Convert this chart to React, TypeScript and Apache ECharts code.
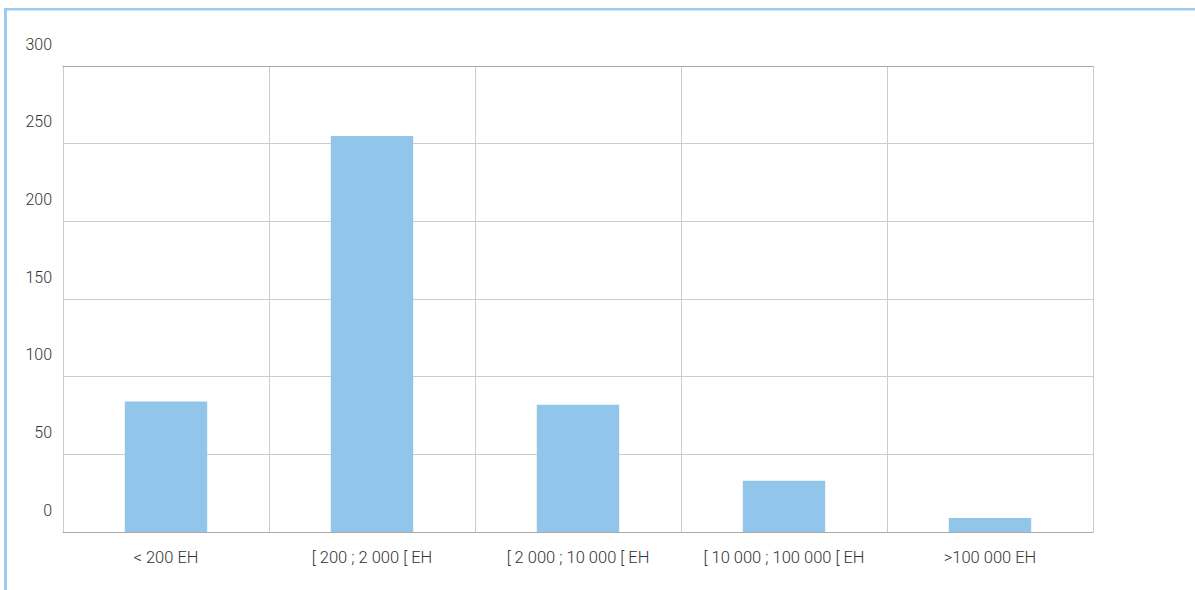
import React, { useEffect, useRef } from "react";
import * as echarts from "echarts";

const categories = ["< 200 EH", "[ 200 ; 2 000 [ EH", "[ 2 000 ; 10 000 [ EH", "[ 10 000 ; 100 000 [ EH", ">100 000 EH"];
const values = [84, 255, 82, 33, 9];
const yTicks = { min: 0, max: 300, interval: 50 };

export default function App() {
  const ref = useRef<HTMLDivElement>(null);
  useEffect(() => {
    if (!ref.current) return;
    const chart = echarts.init(ref.current, null, { renderer: "svg" });
    chart.setOption({
      animation: false,
      backgroundColor: "#ffffff",
      textStyle: { fontFamily: "Roboto" },
      grid: { left: 63, right: 102, top: 66, bottom: 58, containLabel: false },
      graphic: [
        { type: "rect", shape: { x: 4, y: 8, width: 1191, height: 2.5 }, style: { fill: "#9dcbee" }, silent: true },
        { type: "rect", shape: { x: 4, y: 8, width: 3, height: 582 }, style: { fill: "#9dcbee" }, silent: true },
      ],
      xAxis: [
        {
          type: "category",
          data: categories,
          position: "bottom",
          axisLine: { show: true, lineStyle: { color: "#a8a8a8", width: 1 } },
          axisTick: { show: false },
          splitLine: { show: true, interval: 0, lineStyle: { color: "#cccccc", width: 1 } },
          axisLabel: { interval: 0, color: "#333333", fontSize: 16.5, fontWeight: 300, fontFamily: "Roboto", margin: 17 },
        },
        {
          type: "category",
          data: categories,
          position: "top",
          axisLine: { show: true, lineStyle: { color: "#a8a8a8", width: 1 } },
          axisTick: { show: false },
          axisLabel: { show: false },
          splitLine: { show: false },
        },
      ],
      yAxis: {
        type: "value",
        min: yTicks.min,
        max: yTicks.max,
        interval: yTicks.interval,
        axisLine: { show: true, lineStyle: { color: "#cccccc" } },
        axisTick: { show: false },
        splitLine: { show: true, lineStyle: { color: "#cccccc", width: 1 } },
        axisLabel: {
          color: "#333333",
          fontSize: 16,
          fontWeight: 300,
          fontFamily: "Roboto",
          margin: 11,
          verticalAlign: "bottom",
          padding: [0, 0, 14, 0],
        },
      },
      series: [
        {
          type: "bar",
          data: values,
          xAxisIndex: 0,
          barWidth: "40%",
          itemStyle: { color: "#92c5ea" },
          silent: true,
        },
      ],
    });
    return () => chart.dispose();
  }, []);
  return (
    <div
      ref={ref}
      style={{ position: "absolute", left: 0, top: 0, width: 1195, height: 590 }}
    />
  );
}
